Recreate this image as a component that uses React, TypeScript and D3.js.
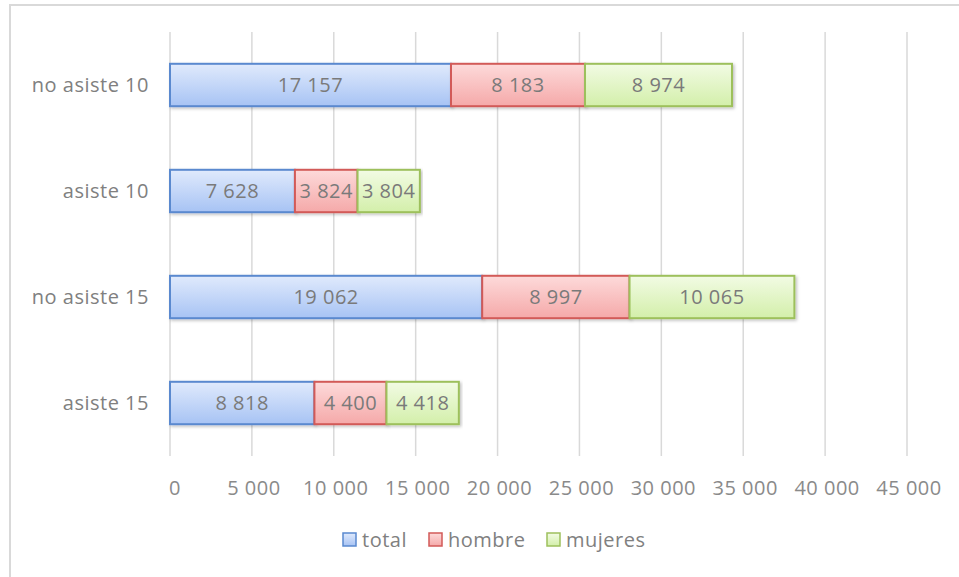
import React, { useRef, useEffect } from 'react';
import * as d3 from 'd3';

const categories = ['no asiste 10', 'asiste 10', 'no asiste 15', 'asiste 15'];
const seriesNames = ['total', 'hombre', 'mujeres'];
const total = [17157, 7628, 19062, 8818];
const hombre = [8183, 3824, 8997, 4400];
const mujeres = [8974, 3804, 10065, 4418];
const xTicks = [0, 5000, 10000, 15000, 20000, 25000, 30000, 35000, 40000, 45000];

const colors = [
  { top: '#e0eafc', bottom: '#a7c3f4', stroke: '#5a89cf' },
  { top: '#fddada', bottom: '#f5a9a9', stroke: '#d25a58' },
  { top: '#f2fbe4', bottom: '#d3efaa', stroke: '#9dc05c' },
];

const fmt = (v: number) => d3.format(',')(v).replace(/,/g, ' ');

const App = () => {
  const ref = useRef<SVGSVGElement>(null);
  const width = 959;
  const height = 577;

  useEffect(() => {
    const svg = d3.select(ref.current)
      .attr('width', width)
      .attr('height', height)
      .style('background-color', 'white')
      .style('font-family', '"Open Sans", sans-serif')
      .style('letter-spacing', '0.5px');

    svg.selectAll('*').remove();

    const defs = svg.append('defs');
    colors.forEach((c, i) => {
      const g = defs.append('linearGradient')
        .attr('id', 'grad' + i)
        .attr('x1', 0).attr('y1', 0).attr('x2', 0).attr('y2', 1);
      g.append('stop').attr('offset', '0%').attr('stop-color', c.top);
      g.append('stop').attr('offset', '100%').attr('stop-color', c.bottom);
    });
    const shadow = defs.append('filter').attr('id', 'shadow')
      .attr('x', '-5%').attr('y', '-20%').attr('width', '110%').attr('height', '150%');
    shadow.append('feDropShadow')
      .attr('dx', 1.5).attr('dy', 1.5).attr('stdDeviation', 1.5)
      .attr('flood-color', '#000').attr('flood-opacity', 0.25);

    // outer frame
    svg.append('rect')
      .attr('x', 10).attr('y', 5)
      .attr('width', width + 20).attr('height', height + 20)
      .style('fill', 'none')
      .style('stroke', '#d9d9d9')
      .style('stroke-width', 2);

    const xScale = d3.scaleLinear().domain([0, 45000]).range([170, 907]);
    const yScale = d3.scaleBand().domain(categories).range([32, 456]).paddingInner(0.6).paddingOuter(0.3);

    // gridlines
    svg.append('g')
      .selectAll('line')
      .data(xTicks)
      .enter()
      .append('line')
      .attr('x1', d => xScale(d)).attr('x2', d => xScale(d))
      .attr('y1', 32).attr('y2', 456)
      .style('stroke', '#d9d9d9')
      .style('stroke-width', 1.5);

    // x tick labels
    svg.append('g')
      .selectAll('text')
      .data(xTicks)
      .enter()
      .append('text')
      .attr('x', d => xScale(d) + (d === 0 ? 5 : 2))
      .attr('y', 495)
      .attr('text-anchor', 'middle')
      .style('font-size', '20px')
      .style('fill', '#8a8a8a')
      .text(d => fmt(d));

    // category labels
    svg.append('g')
      .selectAll('text')
      .data(categories)
      .enter()
      .append('text')
      .attr('x', 149)
      .attr('y', d => (yScale(d) as number) + yScale.bandwidth() / 2)
      .attr('dy', '0.35em')
      .attr('text-anchor', 'end')
      .style('font-size', '20px')
      .style('fill', '#808080')
      .text(d => d);

    // stacked bars
    const rows = categories.map((c, i) => ({ cat: c, total: total[i], hombre: hombre[i], mujeres: mujeres[i] }));
    const stacked = d3.stack<any>().keys(seriesNames)(rows);

    stacked.forEach((layer, si) => {
      const g = svg.append('g');
      g.selectAll('rect')
        .data(layer)
        .enter()
        .append('rect')
        .attr('x', d => xScale(d[0]))
        .attr('y', d => yScale(d.data.cat) as number)
        .attr('width', d => xScale(d[1]) - xScale(d[0]))
        .attr('height', yScale.bandwidth())
        .attr('filter', 'url(#shadow)')
        .style('fill', `url(#grad${si})`)
        .style('stroke', colors[si].stroke)
        .style('stroke-width', 2);

      g.selectAll('text')
        .data(layer)
        .enter()
        .append('text')
        .attr('x', d => (xScale(d[0]) + xScale(d[1])) / 2)
        .attr('y', d => (yScale(d.data.cat) as number) + yScale.bandwidth() / 2)
        .attr('dy', '0.35em')
        .attr('text-anchor', 'middle')
        .style('font-size', '20px')
        .style('fill', '#7a7a7a')
        .text(d => fmt(d.data[seriesNames[si]]));
    });

    // legend
    const legendX = [343, 429, 547];
    const legend = svg.append('g');
    seriesNames.forEach((name, i) => {
      legend.append('rect')
        .attr('x', legendX[i]).attr('y', 533)
        .attr('width', 13).attr('height', 13)
        .style('fill', `url(#grad${i})`)
        .style('stroke', colors[i].stroke)
        .style('stroke-width', 1.5);
      legend.append('text')
        .attr('x', legendX[i] + 19)
        .attr('y', 540)
        .attr('dy', '0.35em')
        .style('font-size', '20px')
        .style('fill', '#808080')
        .text(name);
    });
  }, []);

  return (
    <div style={{ position: 'absolute', left: 0, top: 0 }}>
      <svg ref={ref}></svg>
    </div>
  );
};

export default App;
